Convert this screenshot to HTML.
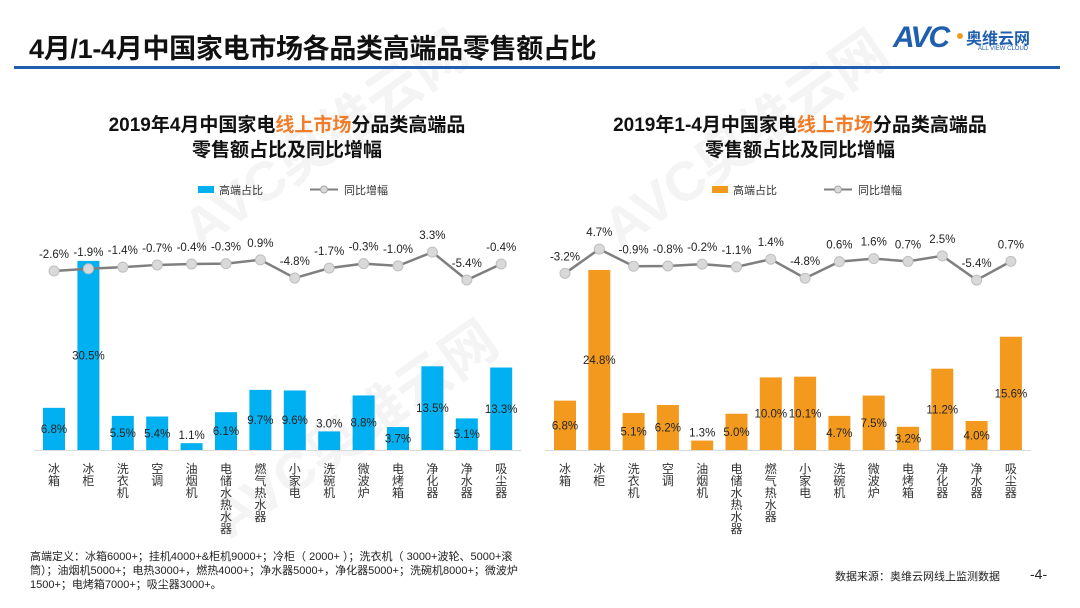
<!DOCTYPE html>
<html><head><meta charset="utf-8">
<style>
body{margin:0;width:1080px;height:608px;background:#fff;overflow:hidden;font-family:"Liberation Sans","Noto Sans CJK SC",sans-serif;position:relative}
.abs{position:absolute}
</style></head>
<body>
<svg class="abs" style="left:0;top:0" width="1080" height="608">
  <g fill="#f4f4f4" font-weight="bold" font-family="Liberation Sans, Noto Sans CJK SC, sans-serif">
    <text x="200" y="250" font-size="55" transform="rotate(-35 200 250)">AVC奥维云网</text>
    <text x="620" y="250" font-size="55" transform="rotate(-35 620 250)">AVC奥维云网</text>
    <text x="230" y="540" font-size="55" transform="rotate(-35 230 540)">AVC奥维云网</text>
  </g>
</svg>
<div class="abs" style="left:29px;top:27px;font-size:27px;font-weight:bold;color:#111;letter-spacing:-0.3px">4月/1-4月中国家电市场各品类高端品零售额占比</div>
<div class="abs" style="left:14px;top:66px;width:1046px;height:3px;background:#1f5fae"></div>
<div class="abs" style="left:893px;top:24px;width:165px;height:32px">
  <span style="position:absolute;left:0;top:-3px;font-size:30px;font-weight:bold;font-style:italic;color:#1f5fae;letter-spacing:-2px">AVC</span>
  <span style="position:absolute;left:64px;top:9px;width:6px;height:6px;border-radius:50%;background:#f39a1e"></span>
  <span style="position:absolute;left:73px;top:1px;font-size:16px;font-weight:bold;color:#1f5fae">奥维云网</span>
  <span style="position:absolute;left:85px;top:22px;font-size:6px;color:#1f5fae">ALL VIEW CLOUD</span>
</div>
<div id="charts"></div>
<div class="abs" style="left:30px;top:550px;font-size:11px;line-height:14px;color:#222;width:505px">高端定义：冰箱6000+；挂机4000+&amp;柜机9000+；冷柜（ 2000+ ）；洗衣机（ 3000+波轮、5000+滚筒）；油烟机5000+；电热3000+，燃热4000+；净水器5000+，净化器5000+；洗碗机8000+；微波炉1500+；电烤箱7000+；吸尘器3000+。</div>
<div class="abs" style="left:835px;top:568px;font-size:11px;color:#222">数据来源：奥维云网线上监测数据</div>
<div class="abs" style="left:1030px;top:566px;font-size:14px;color:#222">-4-</div>
<script>
const categories=["冰箱","冰柜","洗衣机","空调","油烟机","电储水热水器","燃气热水器","小家电","洗碗机","微波炉","电烤箱","净化器","净水器","吸尘器"];
const shareApr=[6.8,30.5,5.5,5.4,1.1,6.1,9.7,9.6,3.0,8.8,3.7,13.5,5.1,13.3];
const growthApr=[-2.6,-1.9,-1.4,-0.7,-0.4,-0.3,0.9,-4.8,-1.7,-0.3,-1.0,3.3,-5.4,-0.4];
const shareYtd=[6.8,24.8,5.1,6.2,1.3,5.0,10.0,10.1,4.7,7.5,3.2,11.2,4.0,15.6];
const growthYtd=[-3.2,4.7,-0.9,-0.8,-0.2,-1.1,1.4,-4.8,0.6,1.6,0.7,2.5,-5.4,0.7];
const NS="http://www.w3.org/2000/svg";
function mk(t,a,p){const e=document.createElementNS(NS,t);for(const k in a)e.setAttribute(k,a[k]);if(p)p.appendChild(e);return e;}
function chart(cfg){
  const svg=mk("svg",{width:1080,height:608,style:"position:absolute;left:0;top:0"});
  
  
  document.getElementById("charts").appendChild(svg);
  const F='Liberation Sans, Noto Sans CJK SC, sans-serif';
  const x=i=>cfg.x0+i*cfg.step;
  const yb=v=>cfg.base-v*cfg.bs;
  const yl=v=>cfg.zero-v*cfg.ls;
  const t1=mk("text",{x:cfg.cx,y:131,"text-anchor":"middle","font-size":19,"font-weight":"bold","font-family":F,fill:"#111"},svg);
  
  
  const s1=mk("tspan",{},t1);s1.textContent=cfg.t1a;
  const s2=mk("tspan",{fill:"#f07d2a"},t1);s2.textContent="线上市场";
  const s3=mk("tspan",{},t1);s3.textContent="分品类高端品";
  const t2=mk("text",{x:cfg.cx,y:156,"text-anchor":"middle","font-size":19,"font-weight":"bold","font-family":F,fill:"#111"},svg);
  t2.textContent="零售额占比及同比增幅";
  
  
  const lg=mk("g",{},svg);
  
  
  mk("rect",{x:cfg.lx,y:186,width:16,height:7,fill:cfg.color},lg);
  const la=mk("text",{x:cfg.lx+21,y:194,"font-size":11,"font-family":F,fill:"#333"},lg);la.textContent="高端占比";
  mk("line",{x1:cfg.lx+112,y1:189.5,x2:cfg.lx+140,y2:189.5,stroke:"#7f7f7f","stroke-width":2},lg);
  mk("circle",{cx:cfg.lx+126,cy:189.5,r:3.5,fill:"#d9d9d9",stroke:"#a6a6a6"},lg);
  const lb=mk("text",{x:cfg.lx+146,y:194,"font-size":11,"font-family":F,fill:"#333"},lg);lb.textContent="同比增幅";
  const ax=mk("line",{x1:cfg.x0-20,y1:cfg.base+0.5,x2:x(13)+20,y2:cfg.base+0.5,stroke:"#d9d9d9"},svg);
  
  
  cfg.share.forEach((v,i)=>{
    const r=mk("rect",{x:x(i)-11,y:yb(v),width:22,height:v*cfg.bs,fill:cfg.color},svg);
    
    
    let ly=(yb(v)+cfg.base)/2+4;
    if(v*cfg.bs<20) ly=yb(v)-4;
    const tl=mk("text",{x:x(i),y:ly,"text-anchor":"middle","font-size":11.5,"font-family":F,fill:"#222"},svg);
    tl.textContent=v.toFixed(1)+"%";
    
    
    [...categories[i]].forEach((c,j)=>{
      const ct=mk("text",{x:x(i),y:cfg.base+23+j*12,"text-anchor":"middle","font-size":12,"font-family":F,fill:"#333"},svg);
      ct.textContent=c;
      
      
    });
  });
  const pts=cfg.growth.map((v,i)=>x(i)+","+yl(v)).join(" ");
  const pl=mk("polyline",{points:pts,fill:"none",stroke:"#7f7f7f","stroke-width":2.5},svg);
  
  
  cfg.growth.forEach((v,i)=>{
    const c=mk("circle",{cx:x(i),cy:yl(v),r:5,fill:"#d9d9d9",stroke:"#bfbfbf","stroke-width":1},svg);
    
    
    const tl=mk("text",{x:x(i),y:yl(v)-13,"text-anchor":"middle","font-size":11.5,"font-family":F,fill:"#222"},svg);
    tl.textContent=v.toFixed(1)+"%";
    
    
  });
}
chart({name:"chart-april",x0:54,step:34.4,base:450,bs:6.2,zero:262.7,ls:3.2,color:"#00b0f0",cx:287,lx:198,t1a:"2019年4月中国家电",share:shareApr,growth:growthApr});
chart({name:"chart-ytd",x0:565,step:34.3,base:450,bs:7.26,zero:263.5,ls:3.07,color:"#f39a1e",cx:800,lx:712,t1a:"2019年1-4月中国家电",share:shareYtd,growth:growthYtd});
</script>
</body></html>
